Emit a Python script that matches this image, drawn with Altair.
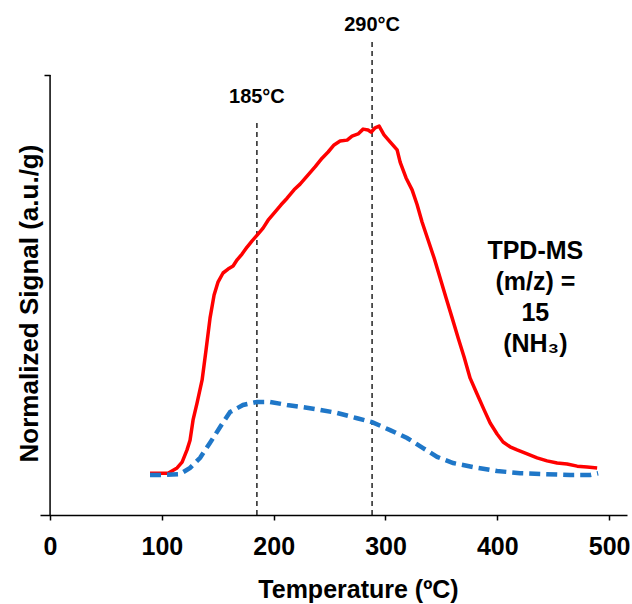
import altair as alt
import pandas as pd

# ---- data ----
red_T = [89.4, 105.5, 113.6, 118.1, 122.5, 125.2, 127.9, 131.5, 136.0, 139.5, 143.1, 146.7,
         150.3, 154.7, 159.2, 163.7, 167.3, 171.7, 176.2, 180.7, 185.2, 190.5, 195.0, 201.3,
         206.6, 212.0, 218.2, 223.6, 230.8, 237.0, 243.3, 248.7, 254.0, 259.4, 265.7, 270.1,
         275.5, 280.0, 284.4, 287.1, 290.7, 294.3, 298.7, 304.1, 310.4, 313.1, 318.4, 323.8,
         328.3, 332.7, 338.1, 343.5, 348.8, 354.2, 359.6, 365.0, 370.3, 375.7, 381.9, 388.2,
         393.6, 399.8, 405.2, 411.4, 417.7, 426.7, 435.6, 444.5, 453.5, 462.4, 471.4, 480.3,
         489.3]
red_v = [9.5, 9.5, 10.7, 12.0, 14.8, 17.0, 21.6, 25.5, 30.7, 37.5, 44.8, 50.0,
         53.0, 55.0, 55.9, 56.6, 58.0, 59.3, 60.9, 62.3, 63.6, 65.2, 67.0, 68.9,
         70.5, 72.0, 73.9, 75.2, 77.3, 79.1, 81.1, 82.5, 84.1, 85.0, 85.2, 86.1,
         86.6, 87.7, 87.5, 87.0, 88.0, 88.4, 86.4, 84.8, 83.0, 80.2, 76.6, 73.9,
         70.5, 66.6, 62.5, 58.4, 53.9, 49.3, 44.8, 40.2, 35.9, 31.1, 27.5, 23.9,
         20.9, 18.4, 16.6, 15.5, 14.8, 13.9, 13.0, 12.3, 11.8, 11.6, 11.1, 10.9,
         10.7]

blue_T = [89.4, 101.1, 116.3, 125.2, 134.2, 143.1, 152.1, 161.0, 172.6, 185.2, 196.8, 212.0,
          226.3, 241.5, 256.7, 274.6, 288.0, 304.1, 319.3, 333.6, 346.2, 360.5, 378.4, 399.8,
          420.4, 441.0, 465.1, 483.0, 490.2]
blue_v = [9.1, 9.1, 9.3, 10.7, 13.0, 16.4, 20.0, 23.4, 25.0, 25.7, 25.7, 25.0,
          24.5, 23.9, 23.2, 22.0, 21.1, 19.3, 17.5, 15.2, 13.2, 11.8, 10.9, 10.0,
          9.5, 9.3, 9.1, 9.1, 9.5]

peak_T = [185, 288]
peak_top = [90, 108]
peak_labels = ["185°C", "290°C"]
peak_label_v = [95, 111.4]

box_lines = ["TPD-MS", "(m/z) =", "15", "(NH\u2083)"]
box_T = [434]
box_v = [60]

x_ticks = [0, 100, 200, 300, 400, 500]

FONT = "Liberation Sans"

xscale = alt.Scale(domain=[-9, 516], nice=False, zero=False)
yscale = alt.Scale(domain=[0, 115], nice=False, zero=False)

xaxis = alt.Axis(values=x_ticks, title="Temperature (ºC)", grid=False,
                 domainColor="black", domainWidth=1.5, tickColor="black",
                 tickSize=5, tickWidth=1.5, labelFont=FONT, labelFontSize=25,
                 labelFontWeight="bold", labelColor="black", labelPadding=14,
                 titleFont=FONT, titleFontSize=25, titleFontWeight="bold",
                 titleColor="black", titleX=318, titleY=82, titleAlign="center",
                 titleBaseline="alphabetic")
yaxis = alt.Axis(values=[100], offset=-10, domain=False, grid=False, labels=False,
                 tickColor="black", tickSize=6, tickWidth=1.5,
                 title="Normalized Signal (a.u./g)", titleFont=FONT, titleFontSize=26,
                 titleFontWeight="bold", titleColor="black", titleAngle=270,
                 titleX=-21, titleY=294, titleAlign="center", titleBaseline="middle")


def X(field):
    return alt.X(f"{field}:Q", scale=xscale, axis=xaxis)


def Y(field):
    return alt.Y(f"{field}:Q", scale=yscale, axis=yaxis)


red_df = pd.DataFrame({"T": red_T, "v": red_v})
blue_df = pd.DataFrame({"T": blue_T, "v": blue_v})
peaks_df = pd.DataFrame({"T": peak_T, "v": [0] * len(peak_T), "top": peak_top,
                         "label": peak_labels, "lv": peak_label_v})
yline_df = pd.DataFrame({"T": [0], "v": [0], "top": [100]})
box_df = pd.DataFrame({"T": box_T, "v": box_v, "label": ["\n".join(box_lines)]})

yline = alt.Chart(yline_df).mark_rule(color="black", strokeWidth=1.5).encode(
    x=X("T"), y=Y("v"), y2="top:Q")

vlines = alt.Chart(peaks_df).mark_rule(color="black", strokeWidth=1.3,
                                        strokeDash=[5, 4]).encode(
    x=X("T"), y=Y("v"), y2="top:Q")

vlabels = alt.Chart(peaks_df).mark_text(font=FONT, fontSize=20, fontWeight="bold",
                                         color="black", baseline="middle").encode(
    x=X("T"), y=Y("lv"), text="label:N")

red = alt.Chart(red_df).mark_line(color="#FF0000", strokeWidth=3.5,
                                  strokeJoin="round").encode(
    x=X("T"), y=Y("v"), order="T:Q")

blue = alt.Chart(blue_df).mark_line(color="#1F77C8", strokeWidth=4.5,
                                    strokeDash=[11, 6]).encode(
    x=X("T"), y=Y("v"), order="T:Q")

box = alt.Chart(box_df).mark_text(font=FONT, fontSize=25, fontWeight="bold",
                                  color="black", baseline="middle", align="center",
                                  lineBreak="\n", lineHeight=31).encode(
    x=X("T"), y=Y("v"), text="label:N")

chart = alt.layer(vlines, red, blue, yline, vlabels, box).properties(
    width=587, height=506,
    padding={"left": 40, "top": 9, "right": 5, "bottom": 89},
    autosize=alt.AutoSizeParams(type="none"),
    background="white",
).configure_view(stroke=None)

chart.save("out.html", embed_options={"renderer": "svg", "actions": False})
